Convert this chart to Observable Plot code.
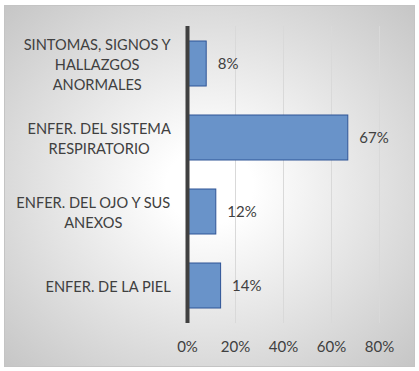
<!DOCTYPE html>
<html><head><meta charset="utf-8">
<script src="https://cdn.jsdelivr.net/npm/d3@7"></script>
<script src="https://cdn.jsdelivr.net/npm/@observablehq/plot@0.6"></script>
<style>
html,body{margin:0;padding:0;background:#fff;}
#wrap{position:relative;width:419px;height:371px;overflow:hidden;background:#fff;}
#bg{position:absolute;left:4px;top:5px;width:409px;height:360px;border:1px solid #c4c4c4;
  background:radial-gradient(ellipse farthest-corner at 50% 50%, #ffffff 0%, #ffffff 15%, #c6c6c6 100%);}
#chart{position:absolute;left:0;top:0;}
</style></head>
<body><div id="wrap"><div id="bg"></div><div id="chart"></div></div>
<script>
const categories = [
  "SINTOMAS, SIGNOS Y HALLAZGOS ANORMALES",
  "ENFER. DEL SISTEMA RESPIRATORIO",
  "ENFER. DEL OJO Y SUS ANEXOS",
  "ENFER. DE LA PIEL"
];
const labelLines = [
  ["SINTOMAS, SIGNOS Y", "HALLAZGOS", "ANORMALES"],
  ["ENFER. DEL SISTEMA", "RESPIRATORIO"],
  ["ENFER. DEL OJO Y SUS", "ANEXOS"],
  ["ENFER. DE LA PIEL"]
];
const values = [0.08, 0.67, 0.12, 0.14];
const xTicks = [0, 0.2, 0.4, 0.6, 0.8];

const FONT = "Lato";
const FS = 15;
const LFS = 14.6;
const TEXT = "#404040";
const data = categories.map((c, i) => ({cat: c, value: values[i]}));

const ctx = document.createElement("canvas").getContext("2d");
ctx.font = `${LFS}px ${FONT}`;

const labelMarks = categories.map((c, i) => {
  const lines = labelLines[i];
  const maxW = Math.max(...lines.map(l => ctx.measureText(l).width));
  return Plot.text([{cat: c, t: lines.join("\n")}], {
    x: () => 0, y: "cat", text: "t",
    textAnchor: "middle", dx: -(16.5 + maxW / 2),
    lineHeight: 20 / LFS, fontSize: LFS, fill: TEXT
  });
});

const chart = Plot.plot({
  width: 419, height: 371,
  marginLeft: 187, marginRight: 40, marginTop: 26, marginBottom: 48,
  style: {background: "transparent", fontFamily: FONT, fontSize: FS + "px", color: TEXT},
  x: {domain: [0, 0.8], label: null},
  y: {domain: categories, paddingInner: 0.394, paddingOuter: 0.197, axis: null, label: null},
  marks: [
    Plot.ruleX(xTicks.filter(d => d > 0), {stroke: "#d9d9d9", strokeWidth: 1}),
    Plot.barX(data, {x: "value", y: "cat", fill: "#6993c9", stroke: "#2f5496", strokeWidth: 1}),
    Plot.ruleX([0], {stroke: "#404040", strokeWidth: 4}),
    Plot.text(data, {x: "value", y: "cat", text: d => Math.round(d.value * 100) + "%",
      textAnchor: "start", dx: 11, fill: TEXT}),
    ...labelMarks,
    Plot.axisX({ticks: xTicks, tickFormat: d3.format(".0%"), tickSize: 0, tickPadding: 18,
      fill: TEXT, fontSize: FS, label: null})
  ]
});
document.getElementById("chart").appendChild(chart);
</script>
</body></html>
